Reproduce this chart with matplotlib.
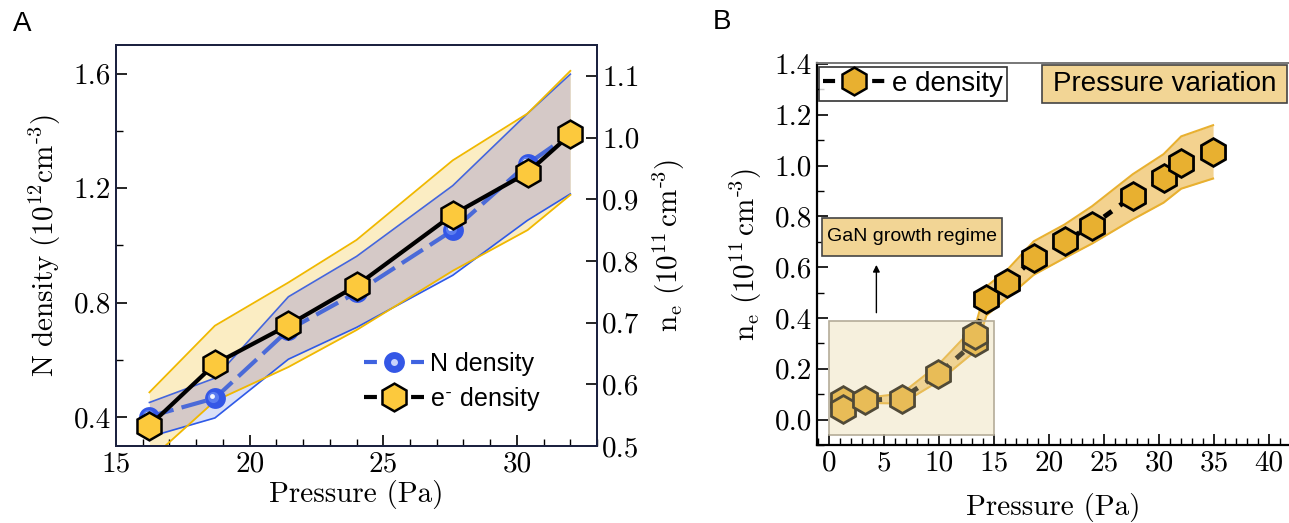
import numpy as np
import matplotlib
matplotlib.use('Agg')
import matplotlib.pyplot as plt
from matplotlib.lines import Line2D
from matplotlib.patches import Rectangle
from matplotlib.legend_handler import HandlerTuple
from matplotlib.ticker import MultipleLocator, FormatStrFormatter
from matplotlib.transforms import offset_copy

plt.rcParams['font.family'] = 'serif'
plt.rcParams['font.serif'] = ['cmr10']
plt.rcParams['mathtext.fontset'] = 'cm'
plt.rcParams['axes.unicode_minus'] = False

# ---- panel A data ----
pressure_a = [16.25, 18.7, 21.45, 24.0, 27.6, 30.4, 32.0]
n_density = [0.403, 0.467, 0.705, 0.836, 1.053, 1.285, 1.389]
n_hi = [0.452, 0.537, 0.821, 0.962, 1.209, 1.461, 1.598]
n_lo = [0.332, 0.398, 0.603, 0.714, 0.896, 1.088, 1.180]
e_density_a = [0.533, 0.633, 0.696, 0.760, 0.875, 0.943, 1.005]
e_hi_a = [0.587, 0.695, 0.765, 0.834, 0.963, 1.039, 1.108]
e_lo_a = [0.477, 0.573, 0.628, 0.688, 0.784, 0.850, 0.907]

# ---- panel B data ----
pressure_b = [1.3, 1.3, 3.3, 6.6, 9.9, 13.3, 13.3, 14.3, 16.2, 18.6, 21.4, 23.9, 27.6, 30.4, 32.0, 34.9]
e_density_b = [0.076, 0.043, 0.076, 0.083, 0.178, 0.307, 0.333, 0.474, 0.537, 0.636, 0.702,
               0.764, 0.880, 0.952, 1.012, 1.054]
band_x = [1.3, 3.3, 6.6, 9.9, 13.3, 14.3, 16.2, 18.6, 21.4, 23.9, 27.6, 30.4, 32.0, 34.9]
band_hi = [0.09, 0.085, 0.103, 0.215, 0.37, 0.524, 0.59, 0.702, 0.768, 0.840, 0.966, 1.045, 1.115, 1.159]
band_lo = [0.03, 0.066, 0.063, 0.149, 0.27, 0.41, 0.48, 0.570, 0.636, 0.693, 0.788, 0.854, 0.909, 0.949]

fig = plt.figure(figsize=(12.89, 5.23), dpi=100)

BLUE = '#3457e6'
GOLD = '#fcc93d'
TICK_FS = 21

# ================= panel A =================
ax = fig.add_axes([0.0900, 0.1472, 0.3732, 0.7668])
ax2 = ax.twinx()
ax.set_xlim(15, 33)
ax.set_ylim(0.3, 1.7)
ax2.set_ylim(0.5, 1.15)

# bands: both drawn on the lower axes so the markers stay on top
blue_fill = ax.fill_between(pressure_a, n_lo, n_hi, color='#bcc8f2', alpha=0.55, lw=0, zorder=1)
ax.fill_between(pressure_a, e_lo_a, e_hi_a, color='#f9dc89', alpha=0.5, lw=0,
                transform=ax2.transData, zorder=1.1)
overlap = ax.fill_between(pressure_a, e_lo_a, e_hi_a, color='#b1a5d7', alpha=0.35, lw=0,
                          transform=ax2.transData, zorder=1.2)
overlap.set_clip_path(blue_fill.get_paths()[0], ax.transData)

ax.plot(pressure_a, n_hi, color='#4466dd', lw=1.2, zorder=2)
ax.plot(pressure_a, n_lo, color='#2f5ae8', lw=1.2, zorder=2)
ax.plot(pressure_a, e_hi_a, color='#f0b800', lw=1.3, transform=ax2.transData, zorder=2)
ax.plot(pressure_a, e_lo_a, color='#f0b800', lw=1.3, transform=ax2.transData, zorder=2)

ax.plot(pressure_a, n_density, color='#4a6ad8', lw=3, dashes=(6, 2), zorder=3)
ax.plot(pressure_a, n_density, ls='none', marker='o', ms=15, mfc=BLUE, mec='none', zorder=4)
hl1 = offset_copy(ax.transData, fig=fig, x=-1.5, y=1.5, units='dots')
hl2 = offset_copy(ax.transData, fig=fig, x=-2.5, y=2.5, units='dots')
ax.plot(pressure_a, n_density, ls='none', marker='o', ms=8, mfc='#5a7cf0', mec='none',
        transform=hl1, zorder=5)
ax.plot(pressure_a, n_density, ls='none', marker='o', ms=3.5, mfc='#f4f6ff', mec='none',
        transform=hl2, zorder=6)

ax2.plot(pressure_a, e_density_a, color='black', lw=3, zorder=3)
ax2.plot(pressure_a, e_density_a, ls='none', marker='h', ms=20, mfc=GOLD, mec='black',
         mew=1.8, zorder=4)

ax.xaxis.set_major_locator(MultipleLocator(5))
ax.xaxis.set_minor_locator(MultipleLocator(1))
ax.yaxis.set_major_locator(MultipleLocator(0.4))
ax.yaxis.set_minor_locator(MultipleLocator(0.2))
ax.yaxis.set_major_formatter(FormatStrFormatter('%.1f'))
ax2.yaxis.set_major_locator(MultipleLocator(0.1))
ax2.yaxis.set_major_formatter(FormatStrFormatter('%.1f'))
ax.tick_params(axis='both', which='both', direction='in', labelsize=TICK_FS, top=False, right=False)
ax.tick_params(which='major', length=8, width=1.2)
ax.tick_params(which='minor', length=5, width=1.0)
ax2.tick_params(axis='y', which='major', direction='in', length=8, width=1.2, labelsize=TICK_FS)
for a in (ax, ax2):
    for s in a.spines.values():
        s.set_linewidth(1.4)
        s.set_color('#1c2240')
ax.set_xlabel('Pressure (Pa)', fontsize=TICK_FS, labelpad=2)
ax.set_ylabel(r'$\mathrm{N\ density\ (10^{12}cm^{\text{-}3})}$', fontsize=TICK_FS, labelpad=8)
ax2.set_ylabel(r'$\mathrm{n_e\ (10^{11}\,cm^{\text{-}3})}$', fontsize=TICK_FS, labelpad=8)

h_blue = (Line2D([0], [0], color='#3f63e0', lw=3, dashes=(3.1, 8.2)),
          Line2D([0], [0], ls='none', marker='o', ms=15, mfc=BLUE, mec='none'),
          Line2D([0], [0], ls='none', marker='o', ms=5, mfc='#c9d3fb', mec='none'))
h_hex = (Line2D([0], [0], color='black', lw=3, dashes=(3.1, 8.2)),
         Line2D([0], [0], ls='none', marker='h', ms=20, mfc=GOLD, mec='black', mew=1.8))
leg = ax2.legend([h_blue, h_hex], ['N density', r'e$^{\text{-}}$ density'],
                 handler_map={tuple: HandlerTuple(ndivide=1)},
                 loc='upper left', bbox_to_anchor=(0.515, 0.235), frameon=False,
                 borderaxespad=0, borderpad=0, handlelength=2.4, handletextpad=0.25,
                 labelspacing=0.35, prop={'family': 'Liberation Sans', 'size': 18})

fig.text(0.017, 0.955, 'A', fontsize=20, family='Liberation Sans', va='center', ha='center')

# ================= panel B =================
bx = fig.add_axes([0.6338, 0.1491, 0.3662, 0.7310])
bx.set_xlim(-1.1, 41.8)
bx.set_ylim(-0.1, 1.405)

bx.fill_between(band_x, band_lo, band_hi, color='#f3d28f', lw=0, zorder=1)
bx.plot(band_x, band_hi, color='#e8b030', lw=1.5, zorder=2)
bx.plot(band_x, band_lo, color='#e8b030', lw=1.5, zorder=2)
bx.plot(pressure_b, e_density_b, color='black', lw=3.5, dashes=(2, 2), zorder=3)
bx.plot(pressure_b, e_density_b, ls='none', marker='h', ms=20, mfc='#e8b030', mec='black',
        mew=2, zorder=4)

# low-pressure region shaded on top of the markers
bx.add_patch(Rectangle((0, -0.06), 15, 0.45, facecolor='#e8d5a0', alpha=0.35,
                       edgecolor='none', zorder=5))
bx.add_patch(Rectangle((0, -0.06), 15, 0.45, facecolor='none', edgecolor='#b4ac98',
                       lw=1.2, zorder=5))
bx.annotate('', xy=(4.3, 0.62), xytext=(4.3, 0.41),
            arrowprops=dict(arrowstyle='-|>', color='black', lw=1, mutation_scale=10), zorder=6)

bx.add_patch(Rectangle((0.010, 0.4952), 0.3826, 0.0994, transform=bx.transAxes,
                       facecolor='#f2d595', edgecolor='#444444', lw=1.2, zorder=6, clip_on=False))
bx.text(0.201, 0.545, 'GaN growth regime', transform=bx.transAxes, ha='center', va='center',
        fontsize=14, family='Liberation Sans', zorder=7)
bx.add_patch(Rectangle((0.477, 0.8938), 0.5194, 0.1002, transform=bx.transAxes,
                       facecolor='#f2d595', edgecolor='#444444', lw=1.2, zorder=6, clip_on=False))
bx.text(0.7367, 0.944, 'Pressure variation', transform=bx.transAxes, ha='center', va='center',
        fontsize=20, family='Liberation Sans', zorder=7)

h_b = (Line2D([0], [0], color='black', lw=3, dashes=(2.9, 8.9)),
       Line2D([0], [0], ls='none', marker='h', ms=20, mfc='#e8b030', mec='black', mew=1.8))
lb = bx.legend([h_b], ['e density'], handler_map={tuple: HandlerTuple(ndivide=1)},
               loc='upper left', bbox_to_anchor=(0.005, 0.99), frameon=True, fancybox=False,
               borderaxespad=0, borderpad=0.15, handlelength=2.2, handletextpad=0.25,
               prop={'family': 'Liberation Sans', 'size': 20})
lb.get_frame().set_edgecolor('black')
lb.get_frame().set_linewidth(1.2)
lb.set_zorder(8)

bx.xaxis.set_major_locator(MultipleLocator(5))
bx.xaxis.set_minor_locator(MultipleLocator(1))
bx.yaxis.set_major_locator(MultipleLocator(0.2))
bx.yaxis.set_minor_locator(MultipleLocator(0.1))
bx.yaxis.set_major_formatter(FormatStrFormatter('%.1f'))
bx.tick_params(axis='both', which='both', direction='in', labelsize=TICK_FS, top=False, right=False)
bx.tick_params(which='major', length=8, width=1.2)
bx.tick_params(which='minor', length=5, width=1.0)
bx.spines['right'].set_visible(False)
bx.spines['top'].set_color('#777777')
bx.spines['top'].set_linewidth(1.4)
bx.spines['left'].set_linewidth(1.6)
bx.spines['bottom'].set_linewidth(1.6)
bx.set_xlabel('Pressure (Pa)', fontsize=TICK_FS, labelpad=12)
bx.set_ylabel(r'$\mathrm{n_e\ (10^{11}\,cm^{\text{-}3})}$', fontsize=TICK_FS, labelpad=8)

fig.text(0.560, 0.958, 'B', fontsize=20, family='Liberation Sans', va='center', ha='center')

fig.savefig('out.png', dpi=100)
